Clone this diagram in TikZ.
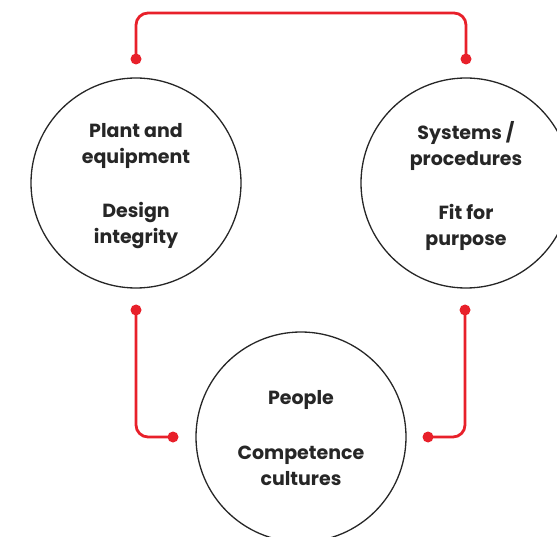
\documentclass[tikz,border=0pt]{standalone}
\usepackage{fontspec}
\setmainfont{Poppins}
\definecolor{abbred}{HTML}{E8202A}
\definecolor{ink}{HTML}{262626}
\tikzset{
  circ/.style={circle, draw=ink, line width=1.3pt, minimum size=210pt, inner sep=0pt},
  txt/.style={align=center, text=ink, inner sep=0pt, font=\bfseries\fontsize{19}{26}\selectfont},
  conn/.style={draw=abbred, line width=2.8pt, rounded corners=12pt},
  dotmark/.style={fill=abbred}
}
\begin{document}
\begin{tikzpicture}[x=1pt,y=-1pt]
\useasboundingbox (0,0) rectangle (557,537);
\clip (0,0) rectangle (557,537);
\node[circ] (L) at (136,183) {};
\node[circ] (R) at (466,183) {};
\node[circ] (B) at (301,437) {};
\node[txt] (Lt) at ([yshift=-3.5pt]L.center) {Plant and\\equipment\\[28pt]Design\\integrity};
\node[txt] (Rt) at ([yshift=-3.5pt]R.center) {Systems /\\procedures\\[28pt]Fit for\\purpose};
\node[txt] (Bt) at ([yshift=-1.5pt]B.center) {People\\[29pt]Competence\\cultures};
\coordinate (a1) at (136,59);
\coordinate (a2) at (466,59);
\coordinate (b1) at (136,310);
\coordinate (b2) at (173,437);
\coordinate (c1) at (465,310);
\coordinate (c2) at (428,437);
\draw[conn] (a1) -- (a1 |- 0,13) -- (a2 |- 0,13) -- (a2);
\draw[conn] (b1) |- (b2);
\draw[conn] (c1) |- (c2);
\foreach \p in {a1,a2,b1,b2,c1,c2} \fill[dotmark] (\p) circle (5.5pt);
\end{tikzpicture}
\end{document}
